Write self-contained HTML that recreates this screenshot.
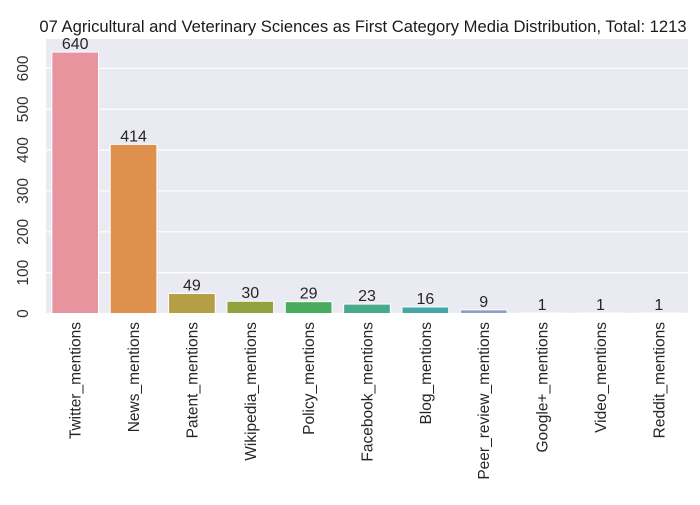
<!DOCTYPE html>
<html><head><meta charset="utf-8"><style>
body{margin:0;background:#fff;font-family:"Liberation Sans","DejaVu Sans",sans-serif}
</style></head><body>
<svg id="chart" width="700" height="500" xmlns="http://www.w3.org/2000/svg" font-family="Liberation Sans, DejaVu Sans, sans-serif">
<text x="363" y="32" text-anchor="middle" font-size="16.6" fill="#1a1a1a">07 Agricultural and Veterinary Sciences as First Category Media Distribution, Total: 1213</text>
<rect x="46" y="39" width="642" height="274.5" fill="#eaeaf2"/>
<g id="grid"></g><g id="bars"></g><g id="labels"></g>
</svg>
<script>
const categories=["Twitter_mentions","News_mentions","Patent_mentions","Wikipedia_mentions","Policy_mentions","Facebook_mentions","Blog_mentions","Peer_review_mentions","Google+_mentions","Video_mentions","Reddit_mentions"];
const values=[640,414,49,30,29,23,16,9,1,1,1];
const yTicks=[0,100,200,300,400,500,600];
const colors=["#e8949f","#dd914d","#b59f46","#91a33f","#4aab5d","#48aa8a","#46a8a6","#8b9fc8","#a58fd8","#d98ad3","#e88cb6"];
const ns="http://www.w3.org/2000/svg";
const L=46,R=688,T=39,B=313.5,ymax=672;
const y=v=>B-(v/ymax)*(B-T);
const slot=(R-L)/categories.length;
const x=i=>L+slot*i;
function mk(t,a,p){const e=document.createElementNS(ns,t);for(const k in a)e.setAttribute(k,a[k]);p.appendChild(e);return e;}
const grid=document.getElementById('grid'),bars=document.getElementById('bars'),labels=document.getElementById('labels');
yTicks.forEach(t=>{
 const g=mk('line',{x1:L,x2:R,y1:y(t),y2:y(t),stroke:'#fff','stroke-width':1.2},grid);
 
 
 const tx=mk('text',{x:0,y:0,transform:`translate(28,${y(t)}) rotate(-90)`,'text-anchor':'middle','font-size':15.5,fill:'#333'},labels);
 tx.textContent=t;
 
 
});
categories.forEach((c,i)=>{
 const bw=slot*0.8,bx=x(i)+slot*0.1;
 const r=mk('rect',{x:bx,y:y(values[i]),width:bw,height:B-y(values[i]),fill:colors[i],stroke:'#fff','stroke-width':1},bars);
 
 
 const v=mk('text',{x:bx+bw/2,y:y(values[i])-3,'text-anchor':'middle','font-size':16,fill:'#262626'},labels);
 v.textContent=values[i];
 
 
 const t=mk('text',{x:0,y:0,transform:`translate(${bx+bw/2+5.5},322) rotate(-90)`,'text-anchor':'end','font-size':15.5,fill:'#262626'},labels);
 t.textContent=c;
 
 
});
</script>
</body></html>
